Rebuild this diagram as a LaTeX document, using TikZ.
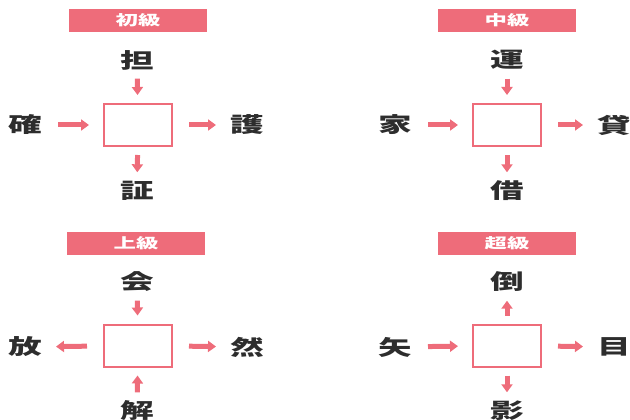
\documentclass[tikz,border=0pt]{standalone}
\usepackage{fontspec}
\usepackage{graphicx}
\usepackage{tikz}
\usetikzlibrary{arrows.meta}
\newfontfamily\jpfont{Noto Sans CJK JP}
\definecolor{kanjipink}{RGB}{238,108,122}
\definecolor{kanjitext}{RGB}{45,45,45}
\newcommand{\wide}[1]{\scalebox{1.6}[1]{#1}}
\tikzset{
  levelbox/.style={fill=kanjipink, text=white, minimum width=138pt, minimum height=23pt, inner sep=0pt, font=\jpfont\bfseries\fontsize{14}{14}\selectfont},
  blankbox/.style={draw=kanjipink, line width=2pt, fill=white, minimum width=68pt, minimum height=42pt, inner sep=0pt},
  kanji/.style={text=kanjitext, inner sep=0pt, minimum height=21pt, font=\jpfont\bfseries\fontsize{21}{21}\selectfont},
  parrow/.style={draw=kanjipink, line width=5pt, -{Triangle[width=11pt,length=8pt]}},
  harrow/.style={parrow, shorten <=16pt, shorten >=14pt},
  varrow/.style={parrow, shorten <=8pt, shorten >=8pt}
}
\begin{document}
\begin{tikzpicture}[x=1pt, y=-1pt]
\useasboundingbox (0,0) rectangle (630,420);

% top left
\node[levelbox] (l1) at (138,20.5) {\wide{初級}};
\node[blankbox] (b1) at (138,125) {};
\node[kanji] (t1) at (137,60) {\wide{担}};
\node[kanji] (w1) at (25,125) {\wide{確}};
\node[kanji] (e1) at (247,125) {\wide{護}};
\node[kanji] (s1) at (137,191) {\wide{証}};
\draw[varrow] (t1) -- (b1);
\draw[harrow] (w1) -- (b1);
\draw[harrow] (b1) -- (e1);
\draw[varrow] (b1) -- (s1);

% top right
\node[levelbox] (l2) at (507,20.5) {\wide{中級}};
\node[blankbox] (b2) at (507,125) {};
\node[kanji] (t2) at (507,60) {\wide{運}};
\node[kanji] (w2) at (395,125) {\wide{家}};
\node[kanji] (e2) at (614,125) {\wide{貸}};
\node[kanji] (s2) at (507,191) {\wide{借}};
\draw[varrow] (t2) -- (b2);
\draw[harrow] (w2) -- (b2);
\draw[harrow] (b2) -- (e2);
\draw[varrow] (b2) -- (s2);

% bottom left
\node[levelbox] (l3) at (136,243.5) {\wide{上級}};
\node[blankbox] (b3) at (138,345.5) {};
\node[kanji] (t3) at (137,282) {\wide{会}};
\node[kanji] (w3) at (25,347) {\wide{放}};
\node[kanji] (e3) at (247,347) {\wide{然}};
\node[kanji] (s3) at (137,411) {\wide{解}};
\draw[varrow] (t3) -- (b3);
\draw[harrow] (b3) -- (w3);
\draw[harrow] (b3) -- (e3);
\draw[varrow] (s3) -- (b3);

% bottom right
\node[levelbox] (l4) at (507,243.5) {\wide{超級}};
\node[blankbox] (b4) at (507,345.5) {};
\node[kanji] (t4) at (507,282) {\wide{倒}};
\node[kanji] (w4) at (395,347) {\wide{矢}};
\node[kanji] (e4) at (614,347) {\wide{目}};
\node[kanji] (s4) at (507,411) {\wide{影}};
\draw[varrow] (b4) -- (t4);
\draw[harrow] (w4) -- (b4);
\draw[harrow] (b4) -- (e4);
\draw[varrow] (b4) -- (s4);
\end{tikzpicture}
\end{document}
